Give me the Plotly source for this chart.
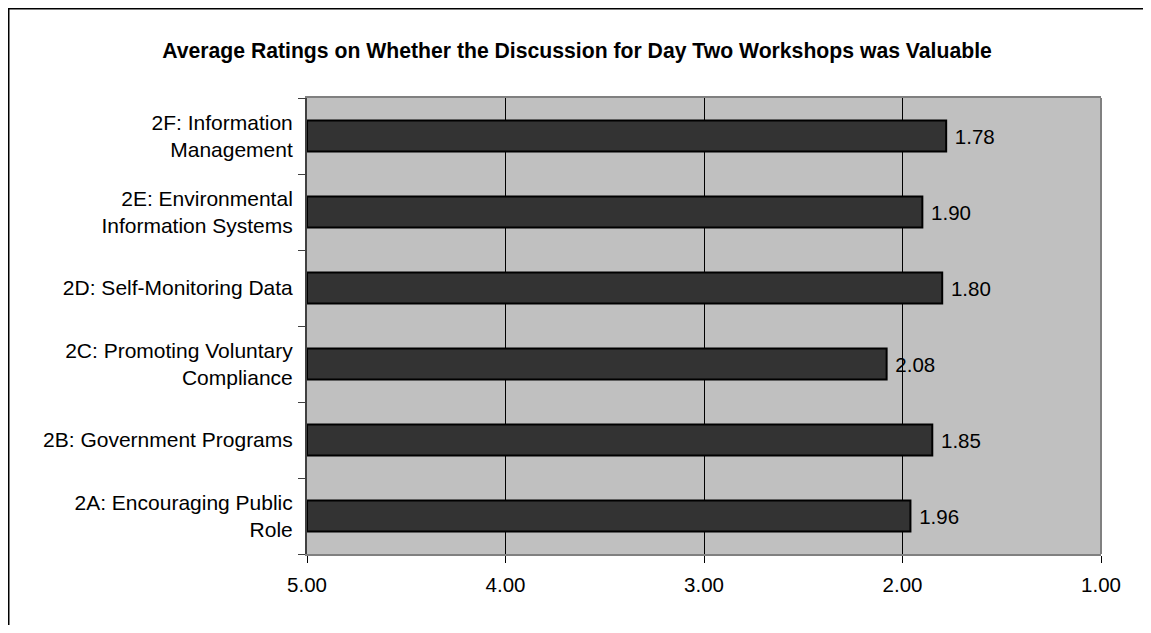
import plotly.graph_objects as go

categories = ["2A: Encouraging Public<br>Role", "2B: Government Programs",
              "2C: Promoting Voluntary<br>Compliance", "2D: Self-Monitoring Data",
              "2E: Environmental<br>Information Systems", "2F: Information<br>Management"]
values = [1.96, 1.85, 2.08, 1.80, 1.90, 1.78]
base_value = 5.0
tick_vals = [5, 4, 3, 2, 1]
tick_text = ["5.00", "4.00", "3.00", "2.00", "1.00"]
title = "Average Ratings on Whether the Discussion for Day Two Workshops was Valuable"

FONT = "Liberation Sans, Arial, sans-serif"

fig = go.Figure(go.Bar(
    y=categories,
    x=[v - base_value for v in values],
    base=base_value,
    orientation="h",
    width=0.41,
    marker=dict(color="#333333", line=dict(color="#000000", width=2)),
    text=[f" {v:.2f}" for v in values],
    textposition="outside",
    textfont=dict(family=FONT, size=20.5, color="black"),
    cliponaxis=False,
))

# page has an 8px body margin; figure coordinates are offset by it
W, H = 1135, 617
L, T = 299, 90
R, B = W - 1093, H - 546
pw, ph = W - L - R, H - T - B

def px(x):
    return (x - L) / pw

def py(y):
    return (H - B - y) / ph

fig.update_layout(
    width=W, height=H,
    margin=dict(l=L, r=R, t=T, b=B, pad=0),
    paper_bgcolor="white",
    plot_bgcolor="#C0C0C0",
    showlegend=False,
    font=dict(family=FONT, size=20.5, color="black"),
    title=dict(text="<b>" + title + "</b>", x=569 / W, xanchor="center", y=1 - 43 / H,
               yanchor="middle", xref="container", yref="container",
               font=dict(family=FONT, size=21.2, color="black")),
    xaxis=dict(range=[5, 1], tickvals=tick_vals, ticktext=tick_text,
               showgrid=True, gridcolor="black", gridwidth=1,
               showline=True, linecolor="#808080", linewidth=2, mirror=True,
               ticks="outside", ticklen=7, tickcolor="black", tickwidth=1,
               zeroline=False, ticklabelstandoff=4,
               tickfont=dict(family=FONT, size=20.5, color="black")),
    yaxis=dict(showgrid=False, tickson="boundaries", ticks="outside", ticklen=7,
               tickcolor="#404040", tickwidth=1, showline=True, linecolor="#404040",
               linewidth=2, ticklabelstandoff=8,
               tickfont=dict(family=FONT, size=21, color="black")),
    shapes=[
        dict(type="line", xref="paper", yref="paper", x0=1, x1=1, y0=0, y1=1,
             line=dict(color="#808080", width=2)),
        dict(type="rect", xref="paper", yref="paper",
             x0=px(0.75), x1=px(W + 20), y0=py(H + 20), y1=py(0.75),
             line=dict(color="black", width=1.5), fillcolor="rgba(0,0,0,0)",
             layer="below"),
    ],
)

fig.write_html("out.html")
